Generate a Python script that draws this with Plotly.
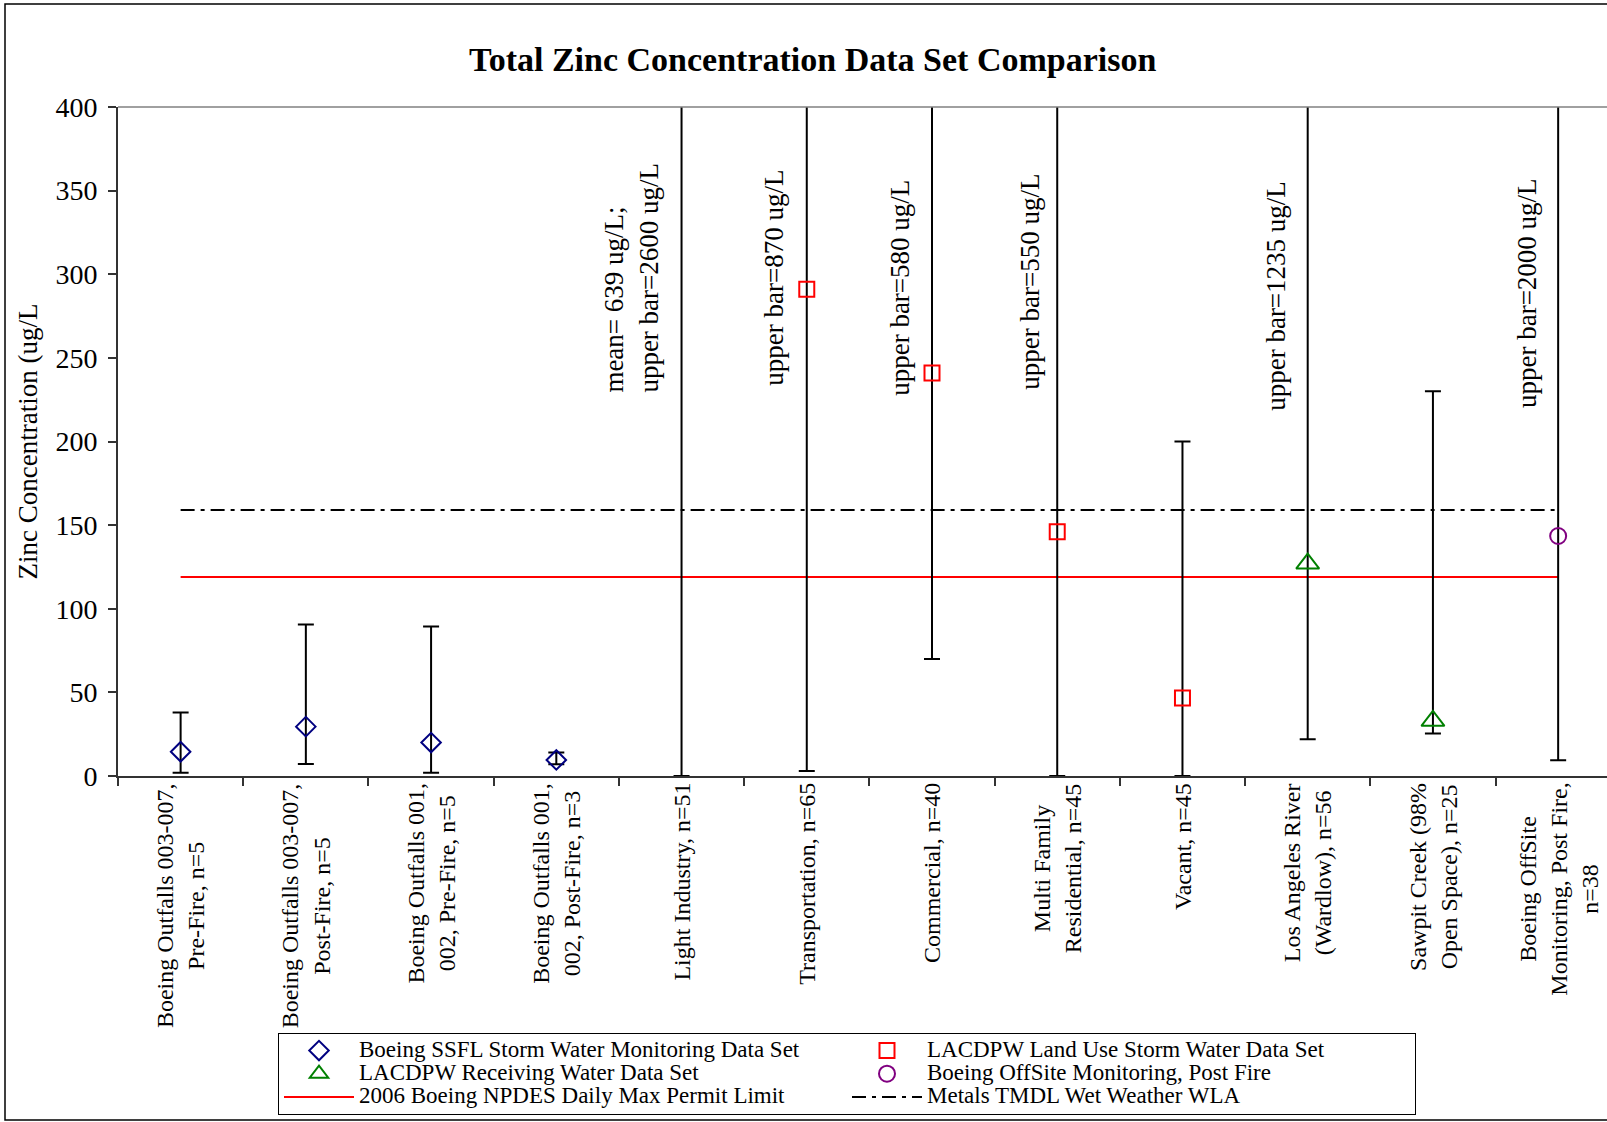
import plotly.graph_objects as go

# ---------------- data ----------------
categories = [
    "Boeing Outfalls 003-007,<br>Pre-Fire, n=5",
    "Boeing Outfalls 003-007,<br>Post-Fire, n=5",
    "Boeing Outfalls 001,<br>002, Pre-Fire, n=5",
    "Boeing Outfalls 001,<br>002, Post-Fire, n=3",
    "Light Industry, n=51",
    "Transportation, n=65",
    "Commercial, n=40",
    "Multi Family<br>Residential, n=45",
    "Vacant, n=45",
    "Los Angeles River<br>(Wardlow), n=56",
    "Sawpit Creek (98%<br>Open Space), n=25",
    "Boeing OffSite<br>Monitoring, Post Fire,<br>n=38",
]

ssfl_idx = [0, 1, 2, 3]
ssfl_mean = [14.5, 29.5, 20, 9.6]
ssfl_upper = [38, 90.6, 89.4, 14]
ssfl_lower = [2, 7.2, 2, 7]

landuse_idx = [4, 5, 6, 7, 8]
landuse_mean = [639, 291, 241, 146, 46.7]
landuse_upper = [2600, 870, 580, 550, 200]
landuse_lower = [0, 3, 70, 0, 0]

recv_idx = [9, 10]
recv_mean = [127, 33]
recv_upper = [1235, 230]
recv_lower = [22, 25.4]

offsite_idx = [11]
offsite_mean = [143.5]
offsite_upper = [2000]
offsite_lower = [9.4]

npdes_limit = 119
tmdl_wla = 159

note_idx = [4, 5, 6, 7, 9, 11]
note_text = [
    "mean= 639 ug/L;<br>upper bar=2600 ug/L",
    "upper bar=870 ug/L",
    "upper bar=580 ug/L",
    "upper bar=550 ug/L",
    "upper bar=1235 ug/L",
    "upper bar=2000 ug/L",
]
note_dx = [-0.396, -0.264, -0.257, -0.219, -0.255, -0.25]
note_y = [228, 232, 226, 229.6, 217, 218.7]

yticks = [0, 50, 100, 150, 200, 250, 300, 350, 400]

FONT = "Liberation Serif, Times New Roman, serif"


def err(mean, upper, lower, width=8):
    return dict(type="data", symmetric=False,
                array=[u - m for u, m in zip(upper, mean)],
                arrayminus=[m - l for m, l in zip(mean, lower)],
                color="black", thickness=2, width=width)


def lg(name):
    return '<span style="font-size:23px">' + name + '</span>'


fig = go.Figure()

first = 0
last = len(categories) - 1

fig.add_trace(go.Scatter(
    x=[first, last], y=[npdes_limit, npdes_limit], mode="lines",
    line=dict(color="#FF0000", width=2),
    name=lg("2006 Boeing NPDES Daily Max Permit Limit"), legendrank=5))
fig.add_trace(go.Scatter(
    x=[first, last], y=[tmdl_wla, tmdl_wla], mode="lines",
    line=dict(color="black", width=2, dash="14px,6px,4px,6px"),
    name=lg("Metals TMDL Wet Weather WLA"), legendrank=6))

fig.add_trace(go.Scatter(
    x=ssfl_idx, y=ssfl_mean, mode="markers",
    marker=dict(symbol="diamond-open", size=15, color="#000080", line=dict(width=2)),
    error_y=err(ssfl_mean, ssfl_upper, ssfl_lower),
    name=lg("Boeing SSFL Storm Water Monitoring Data Set"), legendrank=1))
fig.add_trace(go.Scatter(
    x=landuse_idx, y=landuse_mean, mode="markers",
    marker=dict(symbol="square-open", size=15, color="#FF0000", line=dict(width=2)),
    error_y=err(landuse_mean, landuse_upper, landuse_lower),
    name=lg("LACDPW Land Use Storm Water Data Set"), legendrank=2))
fig.add_trace(go.Scatter(
    x=recv_idx, y=recv_mean, mode="markers",
    marker=dict(symbol="triangle-up-open", size=20, color="#008000", line=dict(width=2)),
    error_y=err(recv_mean, recv_upper, recv_lower),
    name=lg("LACDPW Receiving Water Data Set"), legendrank=3))
fig.add_trace(go.Scatter(
    x=offsite_idx, y=offsite_mean, mode="markers",
    marker=dict(symbol="circle-open", size=16, color="#800080", line=dict(width=2)),
    error_y=err(offsite_mean, offsite_upper, offsite_lower),
    name=lg("Boeing OffSite Monitoring, Post Fire"), legendrank=4))

annotations = []
for i, lab in enumerate(categories):
    annotations.append(dict(
        x=i, y=0, xref="x", yref="paper", text=lab, showarrow=False,
        textangle=-90, xanchor="center", yanchor="top", yshift=-5,
        align="center", font=dict(family=FONT, size=24, color="black")))
for i, t, dx, yv in zip(note_idx, note_text, note_dx, note_y):
    annotations.append(dict(
        x=i + dx, y=yv, xref="x", yref="y", text=t, showarrow=False,
        textangle=-90, xanchor="center", yanchor="bottom", align="left",
        font=dict(family=FONT, size=27, color="black")))

fig.update_layout(
    width=1607, height=1122,
    margin=dict(l=118, r=0, t=107, b=346, pad=0, autoexpand=False),
    paper_bgcolor="white", plot_bgcolor="white",
    title=dict(text="<b>Total Zinc Concentration Data Set Comparison</b>",
               x=(793 * 1.0249) / 1607, xanchor="center", y=1 - 59.5 / 1122, yanchor="middle",
               font=dict(family=FONT, size=34, color="black")),
    font=dict(family=FONT, color="black"),
    xaxis=dict(range=[-0.5, 11.39], tickmode="array",
               tickvals=[i - 0.5 for i in range(len(categories))],
               showticklabels=False, ticks="outside", ticklen=8, tickwidth=1.5,
               tickcolor="#333333", showline=True, linecolor="#333333", linewidth=2,
               showgrid=False, zeroline=False, automargin=False),
    yaxis=dict(range=[0, 400], tickmode="array", tickvals=yticks,
               ticks="outside", ticklen=8, tickwidth=1.5, tickcolor="#333333",
               showline=True, linecolor="#333333", linewidth=2,
               showgrid=False, zeroline=False, ticklabelstandoff=5, automargin=False,
               tickfont=dict(family=FONT, size=28, color="black"),
               title=dict(text="Zinc Concentration (ug/L", standoff=10,
                          font=dict(family=FONT, size=27, color="black"))),
    legend=dict(orientation="h", x=(278 - 118) / 1489, xanchor="left",
                y=(776 - 1033) / 669, yanchor="top",
                entrywidth=483, entrywidthmode="pixels", itemwidth=70,
                bordercolor="black", borderwidth=1, bgcolor="white",
                font=dict(family=FONT, size=15.5, color="black"),
                traceorder="normal"),
    annotations=annotations,
    shapes=[
        dict(type="line", xref="paper", yref="paper", x0=0, x1=1, y0=1, y1=1,
             line=dict(color="#808080", width=1.5)),
        dict(type="rect", xref="paper", yref="paper",
             x0=(5 - 118) / 1489, x1=1.02, y0=(776 - 1120) / 669, y1=(776 - 4) / 669,
             line=dict(color="black", width=1.5), fillcolor="rgba(0,0,0,0)"),
    ],
)

fig.write_html("out.html", config={"displayModeBar": False},
               post_script="document.body.style.margin='0';document.body.style.padding='0';")
